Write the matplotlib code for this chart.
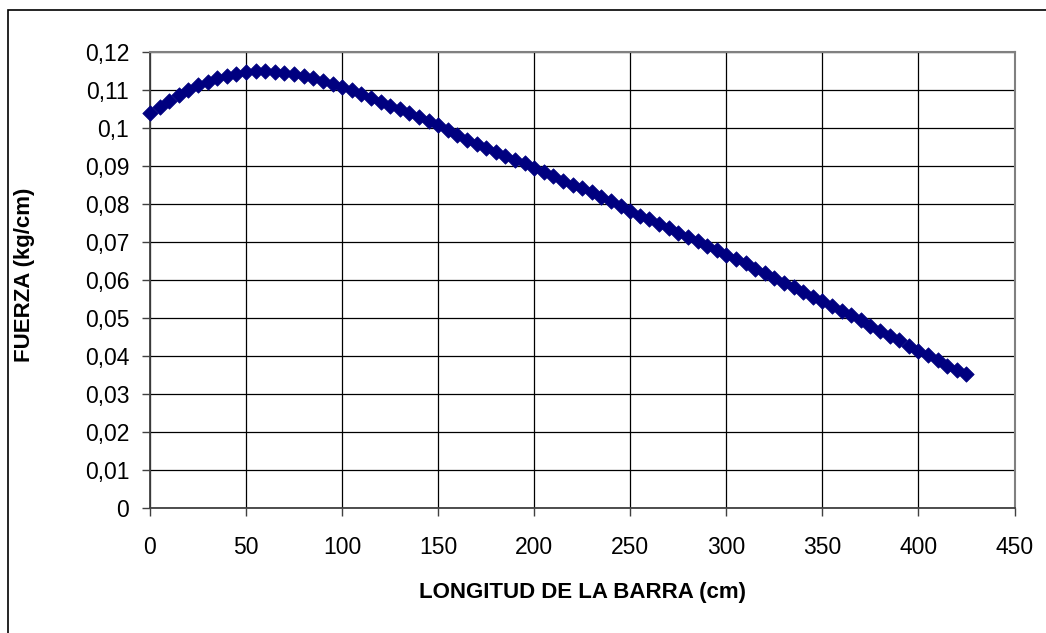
#!/usr/bin/env python3
"""
Fuerza vs longitud de la barra (scatter, Excel style)
"""

import matplotlib
matplotlib.use('Agg')
import matplotlib.pyplot as plt
from matplotlib.patches import Rectangle

plt.rcParams['font.family'] = ['Liberation Sans', 'DejaVu Sans']

# Data
longitud_cm = [0, 5, 10, 15, 20, 25, 30, 35, 40, 45,
               50, 55, 60, 65, 70, 75, 80, 85, 90, 95,
               100, 105, 110, 115, 120, 125, 130, 135, 140, 145,
               150, 155, 160, 165, 170, 175, 180, 185, 190, 195,
               200, 205, 210, 215, 220, 225, 230, 235, 240, 245,
               250, 255, 260, 265, 270, 275, 280, 285, 290, 295,
               300, 305, 310, 315, 320, 325, 330, 335, 340, 345,
               350, 355, 360, 365, 370, 375, 380, 385, 390, 395,
               400, 405, 410, 415, 420, 425]
fuerza = [0.1039, 0.1055, 0.1070, 0.1086, 0.1099, 0.1111, 0.1121, 0.1130, 0.1137, 0.1142,
          0.1146, 0.1148, 0.1148, 0.1147, 0.1144, 0.1141, 0.1136, 0.1130, 0.1123, 0.1116,
          0.1108, 0.1098, 0.1088, 0.1078, 0.1068, 0.1058, 0.1048, 0.1038, 0.1028, 0.1017,
          0.1006, 0.0993, 0.0981, 0.0968, 0.0957, 0.0946, 0.0935, 0.0926, 0.0916, 0.0906,
          0.0895, 0.0884, 0.0872, 0.0861, 0.0850, 0.0841, 0.0830, 0.0819, 0.0807, 0.0793,
          0.0781, 0.0769, 0.0759, 0.0748, 0.0737, 0.0722, 0.0712, 0.0701, 0.0690, 0.0678,
          0.0665, 0.0654, 0.0643, 0.0628, 0.0617, 0.0606, 0.0591, 0.0581, 0.0569, 0.0555,
          0.0543, 0.0532, 0.0518, 0.0507, 0.0494, 0.0479, 0.0465, 0.0453, 0.0442, 0.0427,
          0.0413, 0.0403, 0.0390, 0.0374, 0.0362, 0.0352]

x_ticks = [0, 50, 100, 150, 200, 250, 300, 350, 400, 450]
y_ticks = [0, 0.01, 0.02, 0.03, 0.04, 0.05, 0.06, 0.07, 0.08, 0.09, 0.10, 0.11, 0.12]
y_tick_labels = ['0', '0,01', '0,02', '0,03', '0,04', '0,05', '0,06',
                 '0,07', '0,08', '0,09', '0,1', '0,11', '0,12']

fig = plt.figure(figsize=(10.46, 6.33), dpi=100)
fig.patch.set_facecolor('white')

# outer chart border (right/bottom edges fall outside the picture)
fig.add_artist(Rectangle((8 / 1046, -0.01), 1.0, 1 - 9.5 / 633 + 0.01,
                         transform=fig.transFigure, fill=False,
                         edgecolor='black', linewidth=1.2))

ax = fig.add_axes([0.1434, 0.1975, 0.8265, 0.7209])
ax.scatter(longitud_cm, fuerza, marker='D', s=62, color='#000080',
           edgecolors='#000080', linewidths=0.5, zorder=3, clip_on=False)

ax.set_xlim(0, 450)
ax.set_ylim(0, 0.12)
ax.set_xticks(x_ticks)
ax.set_xticklabels([str(t) for t in x_ticks], fontsize=16.5)
ax.set_yticks(y_ticks)
ax.set_yticklabels(y_tick_labels, fontsize=16.5)
ax.tick_params(direction='out', length=6, width=1, color='#404040')
ax.tick_params(axis='y', pad=9)
ax.tick_params(axis='x', pad=14)

ax.grid(True, color='black', linewidth=0.9)
ax.set_axisbelow(True)
for side in ['left', 'bottom']:
    ax.spines[side].set_color('#404040')
    ax.spines[side].set_linewidth(1.3)
for side in ['top', 'right']:
    ax.spines[side].set_color('#808080')
    ax.spines[side].set_linewidth(1.5)

ax.set_xlabel('LONGITUD DE LA BARRA (cm)', fontsize=16, fontweight='bold')
ax.xaxis.set_label_coords(0.5, -0.162)
ax.set_ylabel('FUERZA (kg/cm)', fontsize=16, fontweight='bold')
ax.yaxis.set_label_coords(-0.133, 0.51)

plt.savefig('out.png', dpi=100)
plt.close()
